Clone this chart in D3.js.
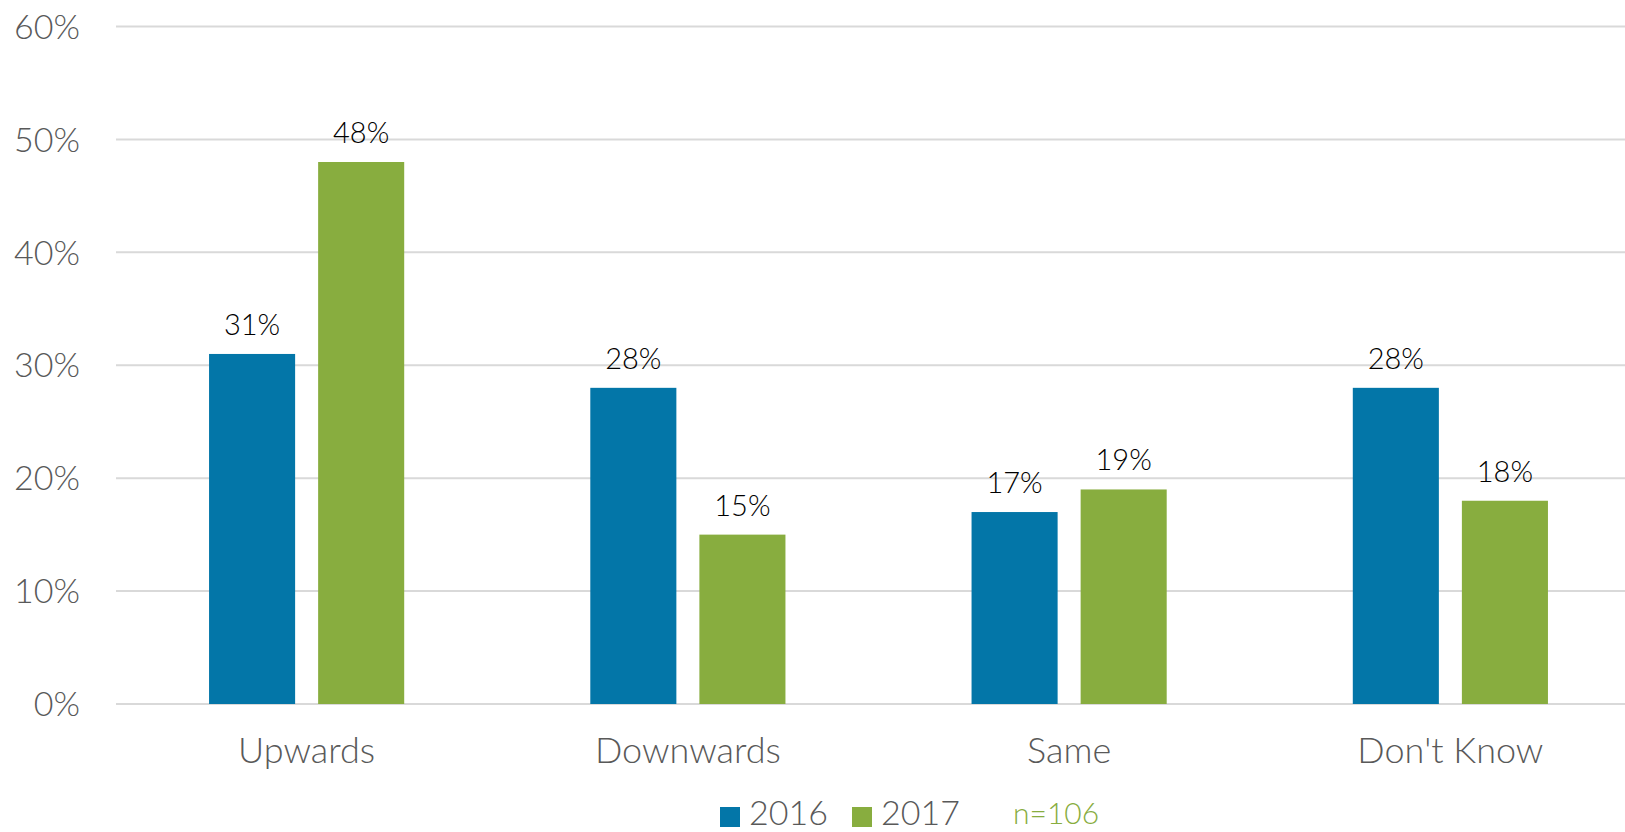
<!DOCTYPE html>
<html><head><meta charset="utf-8">
<script src="https://cdn.jsdelivr.net/npm/d3@7"></script>
<style>
html,body{margin:0;padding:0;background:#fff;}
svg{display:block;font-family:Lato,"Open Sans",sans-serif;}
</style></head>
<body>
<svg id="chart" width="1625" height="832"></svg>
<script>
const categories = ["Upwards", "Downwards", "Same", "Don't Know"];
const seriesNames = ["2016", "2017"];
const values2016 = [31, 28, 17, 28];
const values2017 = [48, 15, 19, 18];
const yTicks = [0, 10, 20, 30, 40, 50, 60];
const colors = ["#0376A8", "#88AD3F"];
const noteText = "n=106";

const svg = d3.select("#chart");
const plotLeft = 116, plotRight = 1641, plotTop = 26.5, plotBottom = 704;

const x = d3.scaleBand().domain(categories).range([plotLeft, plotRight]).paddingInner(0).paddingOuter(0);
const xs = d3.scaleBand().domain(seriesNames).range([0, x.bandwidth()]).paddingInner(0.211).paddingOuter(0.853);
const y = d3.scaleLinear().domain([0, 60]).range([plotBottom, plotTop]);

// grid
svg.append("g").selectAll("line").data(yTicks).join("line")
  .attr("x1", plotLeft).attr("x2", 1625)
  .attr("y1", d => y(d)).attr("y2", d => y(d))
  .attr("stroke", "#d9d9d9").attr("stroke-width", 2);

// y tick labels
svg.append("g").selectAll("text").data(yTicks).join("text")
  .attr("x", 80).attr("y", d => y(d)).attr("dy", "0.36em")
  .attr("text-anchor", "end").attr("font-size", 34).attr("font-weight", 300).attr("fill", "#595959")
  .text(d => d + "%");

const data = categories.map((c, i) => ({cat: c, vals: [values2016[i], values2017[i]]}));

const groups = svg.append("g").selectAll("g").data(data).join("g")
  .attr("transform", d => `translate(${x(d.cat)},0)`);

groups.selectAll("rect").data(d => d.vals.map((v, j) => ({s: seriesNames[j], v, j}))).join("rect")
  .attr("x", d => xs(d.s)).attr("width", xs.bandwidth())
  .attr("y", d => y(d.v)).attr("height", d => y(0) - y(d.v))
  .attr("fill", d => colors[d.j]);

groups.selectAll("text.val").data(d => d.vals.map((v, j) => ({s: seriesNames[j], v, j}))).join("text")
  .attr("class", "val")
  .attr("x", d => xs(d.s) + xs.bandwidth() / 2).attr("y", d => y(d.v) - 19)
  .attr("text-anchor", "middle").attr("font-size", 29).attr("font-weight", 300).attr("fill", "#000")
  .text(d => d.v + "%");

// category labels
svg.append("g").selectAll("text").data(categories).join("text")
  .attr("x", d => x(d) + x.bandwidth() / 2).attr("y", 763)
  .attr("text-anchor", "middle").attr("font-size", 36).attr("font-weight", 300).attr("fill", "#595959")
  .text(d => d);

// legend
const legendX = [720, 852];
const lg = svg.append("g");
seriesNames.forEach((s, i) => {
  lg.append("rect").attr("x", legendX[i]).attr("y", 807).attr("width", 20).attr("height", 20).attr("fill", colors[i]);
  lg.append("text").attr("x", legendX[i] + 29).attr("y", 825).attr("font-size", 34).attr("font-weight", 300).attr("fill", "#595959").text(s);
});
lg.append("text").attr("x", 1013).attr("y", 824).attr("font-size", 30).attr("font-weight", 300).attr("fill", "#88AD3F").text(noteText);
</script>
</body></html>
